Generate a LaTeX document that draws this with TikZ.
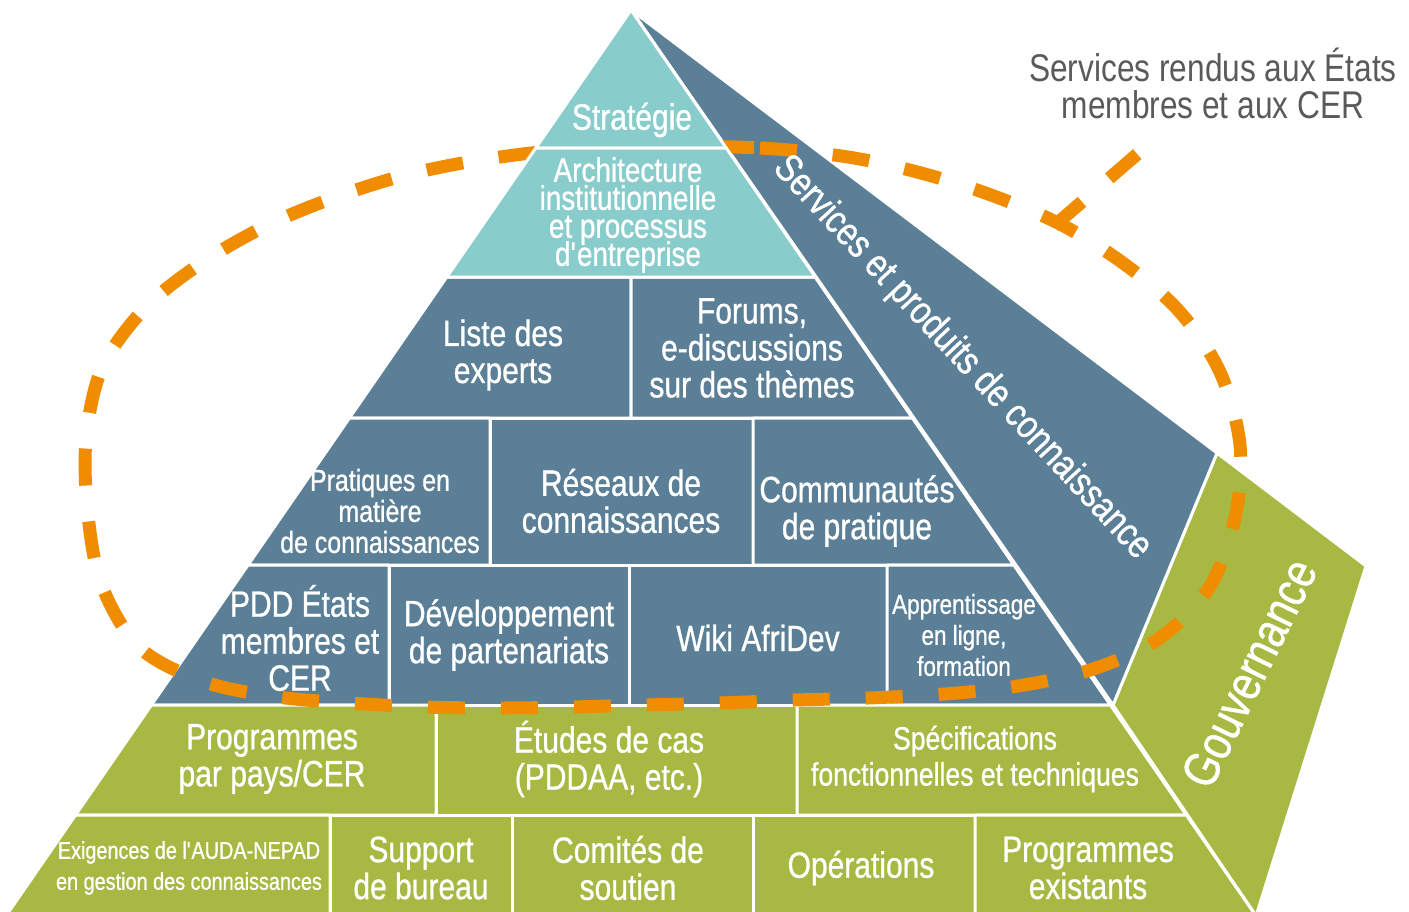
\documentclass[tikz,border=0pt]{standalone}
\usepackage{fontspec}
\setmainfont{Liberation Sans}[FakeStretch=0.82]
\newfontfamily\lblfont{Liberation Sans}[FakeStretch=0.82, FakeBold=0.8]
\usepackage{xcolor}
\usepackage{tikz}
\usetikzlibrary{positioning}

\definecolor{tealtop}{HTML}{89CCCC}
\definecolor{slate}{HTML}{5B7F96}
\definecolor{olive}{HTML}{A7B943}
\definecolor{dashorange}{HTML}{F08C00}
\definecolor{notegray}{HTML}{5A5A5A}

% left and right edge of the front face at height #1
\newcommand\pL[1]{{631-0.69*(#1-10)}}
\newcommand\pR[1]{{631+0.69*(#1-10)}}
\newcommand\lblsize[2]{\lblfont\fontsize{#1}{#2}\selectfont\lineskiplimit=-20pt}

\begin{document}
\begin{tikzpicture}[
    x=0.5pt, y=-0.5pt,
    cell/.style={fill=#1, draw=white, line width=1.5pt, line join=round},
    lbl/.style={text=white, align=center, inner sep=0pt, font=\lblsize{18.3}{18.5}},
    lblsmall/.style={lbl, font=\lblsize{15.2}{15.5}},
    loopline/.style={draw=dashorange, line width=6.5pt, dash pattern=on 18.5pt off 18pt},
]
    \useasboundingbox (0,0) rectangle (1409,911);

    % back faces
    \path[cell=olive] (1113,705) -- (1217,453) -- (1366,566) -- (1256,916) -- cycle;
    \path[cell=slate] (631,10) -- (1217,453) -- (1113,705) -- cycle;

    % front face, slate rows
    \path[cell=slate] (\pL{277},277) -- (631,277) -- (631,418) -- (\pL{418},418) -- cycle;
    \path[cell=slate] (631,277) -- (\pR{277},277) -- (\pR{418},418) -- (631,418) -- cycle;
    \path[cell=slate] (\pL{418},418) -- (490,418) -- (490,565) -- (\pL{565},565) -- cycle;
    \path[cell=slate] (490,418) rectangle (753,565);
    \path[cell=slate] (753,418) -- (\pR{418},418) -- (\pR{565},565) -- (753,565) -- cycle;
    \path[cell=slate] (\pL{565},565) -- (389,565) -- (389,705) -- (\pL{705},705) -- cycle;
    \path[cell=slate] (389,565) rectangle (629,705);
    \path[cell=slate] (629,565) rectangle (887,705);
    \path[cell=slate] (887,565) -- (\pR{565},565) -- (\pR{705},705) -- (887,705) -- cycle;

    % front face, olive rows
    \path[cell=olive] (\pL{705},705) -- (436,705) -- (436,815) -- (\pL{815},815) -- cycle;
    \path[cell=olive] (436,705) rectangle (797,815);
    \path[cell=olive] (797,705) -- (\pR{705},705) -- (\pR{815},815) -- (797,815) -- cycle;
    \path[cell=olive] (\pL{815},815) -- (330,815) -- (330,930) -- (\pL{930},930) -- cycle;
    \path[cell=olive] (330,815) rectangle (512,930);
    \path[cell=olive] (512,815) rectangle (753,930);
    \path[cell=olive] (753,815) rectangle (975,930);
    \path[cell=olive] (975,815) -- (\pR{815},815) -- (\pR{930},930) -- (975,930) -- cycle;
    \draw[white, line width=1.5pt] (631,10) -- (\pR{930},930);

    % dashed loop
    \draw[loopline] plot[smooth cycle, tension=0.55] coordinates {
        (640,146) (760,148) (848,157) (921,173) (991,195) (1060,224) (1123,263)
        (1179,311) (1220,372) (1240,445) (1235,518) (1209,588) (1157,640)
        (1090,670) (1018,686) (945,694) (868,698) (795,700) (720,703) (645,705)
        (570,707) (500,708) (425,707) (350,703) (278,697) (205,682) (140,648)
        (102,586) (88,515) (86,440) (102,368) (145,308) (203,262) (268,225)
        (336,197) (406,175) (480,160) (560,150)};
    \coordinate (fork) at (1054,226);
    \coordinate (tip) at (1142,150);
    \draw[loopline] (fork) -- (tip);

    % teal rows on top of the loop
    \path[cell=tealtop] (631,10) -- (\pR{148},148) -- (\pL{148},148) -- cycle;
    \path[cell=tealtop] (\pL{148},148) -- (\pR{148},148) -- (\pR{277},277) -- (\pL{277},277) -- cycle;

    \node[lbl] (strat) at (632,120) {Stratégie};
    \node[lbl, font=\lblsize{17}{14}] (archi) at (628,215) {Architecture\\institutionnelle\\et processus\\d\textquotesingle{}entreprise};
    \node[lbl] (experts) at (503,355) {Liste des\\experts};
    \node[lbl] (forums) at (752,348) {Forums,\\e-discussions\\sur des thèmes};
    \node[lblsmall] (pratiques) at (380,511) {Pratiques en\\matière\\de connaissances};
    \node[lbl] (reseaux) at (621,501) {Réseaux de\\connaissances};
    \node[lbl] (communautes) at (857,511) {Communautés\\de pratique};
    \node[lbl] (pdd) at (300,638) {PDD États\\membres et\\CER};
    \node[lbl] (partenariats) at (509,635) {Développement\\de partenariats};
    \node[lbl] (wiki) at (758,638) {Wiki AfriDev};
    \node[lbl, font=\lblsize{13.7}{15.5}] (elearning) at (964,635) {Apprentissage\\en ligne,\\formation};
    \node[lbl] (payscer) at (272,759) {Programmes\\par pays/CER};
    \node[lbl] (etudes) at (609,759) {Études de cas\\(PDDAA, etc.)};
    \node[lbl, font=\lblsize{16.2}{18}] (specs) at (975,759) {Spécifications\\fonctionnelles et techniques};
    \node[lbl, font=\lblsize{12.1}{15.5}] (exigences) at (189,868) {Exigences de l\textquotesingle{}AUDA-NEPAD\\en gestion des connaissances};
    \node[lbl] (support) at (421,868) {Support\\de bureau};
    \node[lbl] (comites) at (628,868) {Comités de\\soutien};
    \node[lbl] (operations) at (861,868) {Opérations};
    \node[lbl] (existants) at (1088,868) {Programmes\\existants};
    \node[lbl, rotate=-47, font=\lblsize{19.7}{20}] (produits) at (962,358) {Services et produits de connaissance};
    \node[lbl, rotate=64, font=\lblsize{25}{26}] (gouv) at (1249,673) {Gouvernance};
    \node[align=center, inner sep=0pt, text=notegray, font=\fontsize{19.3}{18.5}\selectfont] (rendus) at (1213,83) {Services rendus aux États\\membres et aux CER};
\end{tikzpicture}
\end{document}
